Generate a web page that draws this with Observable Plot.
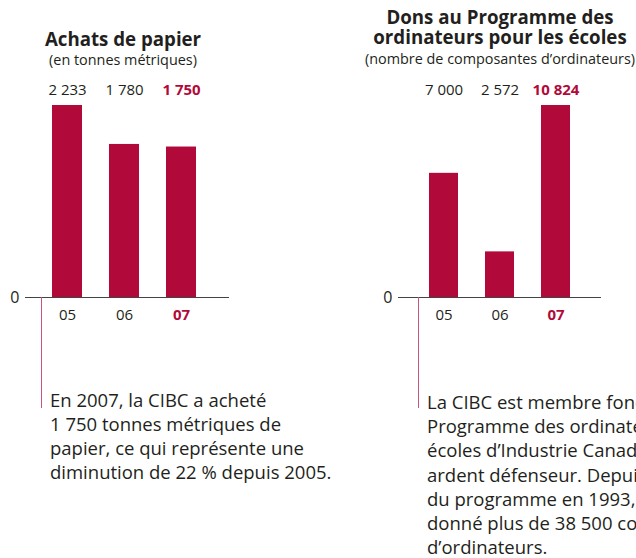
<!DOCTYPE html>
<html>
<head>
<meta charset="utf-8">
<script src="https://cdn.jsdelivr.net/npm/d3@7"></script>
<script src="https://cdn.jsdelivr.net/npm/@observablehq/plot@0.6"></script>
<style>
  html, body { margin: 0; padding: 0; background: #fff; }
  #page { position: relative; width: 636px; height: 558px; overflow: hidden; font-family: "Open Sans", "Noto Sans", sans-serif; color: #231f20; }
  .abs { position: absolute; }
  .title { font-weight: 700; font-size: 18.7px; line-height: 20px; height: 20px; text-align: center; white-space: nowrap; }
  .sub { font-size: 14.4px; line-height: 16px; text-align: center; white-space: nowrap; }
  .body { font-size: 18.5px; line-height: 24px; white-space: nowrap; }
  .vline { position: absolute; width: 1px; background: #c8557a; }
</style>
</head>
<body>
<div id="page">
  <div class="abs title" style="left:-17px; width:280px; top:29px;">Achats de papier</div>
  <div class="abs sub" style="left:-17px; width:280px; top:52px;">(en tonnes métriques)</div>

  <div class="abs title" style="left:360px; width:280px; top:7px;">Dons au Programme des</div>
  <div class="abs title" style="left:360px; width:280px; top:27px;">ordinateurs pour les écoles</div>
  <div class="abs sub" style="left:360px; width:280px; top:51px;">(nombre de composantes d’ordinateurs)</div>

  <div id="c1" class="abs" style="left:0px; top:70px;"></div>
  <div id="c2" class="abs" style="left:318px; top:70px;"></div>

  <div class="vline" style="left:41px; top:297px; height:111px;"></div>
  <div class="vline" style="left:418px; top:297px; height:111px;"></div>

  <div class="abs body" style="left:50px; top:388px;">En 2007, la CIBC a acheté<br>1 750 tonnes métriques de<br>papier, ce qui représente une<br>diminution de 22 % depuis 2005.</div>
  <div class="abs body" style="left:427px; top:390px; line-height:24.2px;">La CIBC est membre fondateur du<br>Programme des ordinateurs pour les<br>écoles d’Industrie Canada et en est un<br>ardent défenseur. Depuis le lancement<br>du programme en 1993, la CIBC a<br>donné plus de 38 500 composantes<br>d’ordinateurs.</div>
</div>
<script>
const years = ["05", "06", "07"];
const paperValues = [2233, 1780, 1750];
const paperLabels = ["2 233", "1 780", "1 750"];
const computerValues = [7000, 2572, 10824];
const computerLabels = ["7 000", "2 572", "10 824"];

const CRIMSON = "#b10a3a";
const INK = "#231f20";

function chart(values, labels, align, marginLeft, marginRight) {
  const data = years.map((y, i) => ({year: y, value: values[i], label: labels[i], last: i === years.length - 1}));
  const plain = data.filter(d => !d.last);
  const bold = data.filter(d => d.last);
  return Plot.plot({
    width: 318,
    height: 262,
    marginTop: 35,
    marginBottom: 35,
    marginLeft,
    marginRight,
    style: {fontFamily: "'Open Sans', 'Noto Sans', sans-serif", color: INK, overflow: "visible"},
    x: {domain: years, paddingInner: 0.474, paddingOuter: 0.526, align, axis: null},
    y: {domain: [0, d3.max(values)], nice: false},
    marks: [
      Plot.barY(data, {x: "year", y: "value", fill: CRIMSON}),
      Plot.ruleY([0], {stroke: "#444", strokeWidth: 1}),
      Plot.axisY({ticks: [0], tickSize: 0, tickPadding: 6, fontSize: 16, label: null, fill: INK}),
      Plot.text(plain, {x: "year", text: "label", frameAnchor: "top", dy: -21, fontSize: 15, fill: INK}),
      Plot.text(bold, {x: "year", text: "label", frameAnchor: "top", dy: -21, fontSize: 15, fontWeight: "bold", fill: CRIMSON}),
      Plot.text(plain, {x: "year", text: "year", frameAnchor: "bottom", dy: 22, fontSize: 15, fill: INK}),
      Plot.text(bold, {x: "year", text: "year", frameAnchor: "bottom", dy: 22, fontSize: 15, fontWeight: "bold", fill: CRIMSON})
    ]
  });
}

document.getElementById("c1").append(chart(paperValues, paperLabels, 0.45, 25, 89));
document.getElementById("c2").append(chart(computerValues, computerLabels, 0.51, 80, 35));
</script>
</body>
</html>
